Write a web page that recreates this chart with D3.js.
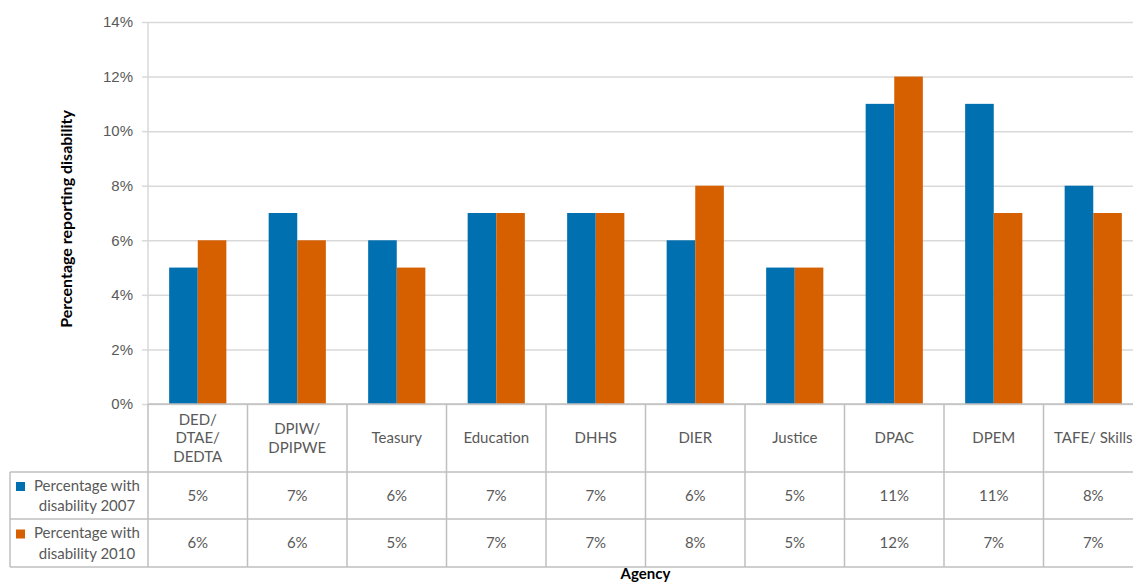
<!DOCTYPE html>
<html>
<head>
<meta charset="utf-8">
<script src="https://cdn.jsdelivr.net/npm/d3@7"></script>
<style>
  html, body { margin: 0; padding: 0; background: #fff; }
  svg { display: block; font-family: "Lato", "Liberation Sans", sans-serif; }
</style>
</head>
<body>
<svg id="chart" width="1133" height="583"></svg>
<script>
// Agencies (table header labels, split into lines)
const agencies = [
  ["DED/", "DTAE/", "DEDTA"],
  ["DPIW/", "DPIPWE"],
  ["Teasury"],
  ["Education"],
  ["DHHS"],
  ["DIER"],
  ["Justice"],
  ["DPAC"],
  ["DPEM"],
  ["TAFE/ Skills"]
];
// Percentage with disability, per agency
const values2007 = [5, 7, 6, 7, 7, 6, 5, 11, 11, 8];
const values2010 = [6, 6, 5, 7, 7, 8, 5, 12, 7, 7];
const seriesNames = [["Percentage with", "disability 2007"], ["Percentage with", "disability 2010"]];
const yTicks = [0, 2, 4, 6, 8, 10, 12, 14];

const colors = ["#0070b0", "#d65f00"];
const textColor = "#595959";
const gridColor = "#d9d9d9";
const lineColor = "#bfbfbf";

const svg = d3.select("#chart");
const plotL = 148, plotR = 1143, plotT = 22, plotB = 404;
const tableLeft = 10, headerBottom = 472, row1Bottom = 519, row2Bottom = 567;

const x = d3.scaleBand().domain(d3.range(agencies.length)).range([plotL, plotR]).paddingInner(0).paddingOuter(0);
const inner = d3.scaleBand().domain([0, 1]).range([0, x.bandwidth()]).paddingOuter(0.74).paddingInner(0);
const y = d3.scaleLinear().domain([0, 14]).range([plotB, plotT]);

// Gridlines and y-axis labels
const yAxis = d3.axisLeft(y).tickValues(yTicks).tickSize(-(plotR - plotL)).tickSizeOuter(0)
  .tickPadding(15).tickFormat(d => d + "%");
const gy = svg.append("g").attr("transform", `translate(${plotL},0)`).call(yAxis);
gy.select(".domain").remove();
gy.selectAll(".tick line").attr("stroke", gridColor).attr("stroke-width", 1.5);
gy.selectAll(".tick text").attr("fill", textColor).attr("font-size", 15);
// small outer tick marks
gy.selectAll(".tick").append("line").attr("x1", -6).attr("x2", 0)
  .attr("stroke", gridColor).attr("stroke-width", 1.5);
// vertical axis line
svg.append("line").attr("x1", plotL).attr("x2", plotL).attr("y1", plotT).attr("y2", plotB)
  .attr("stroke", gridColor).attr("stroke-width", 1.5);

// Bars
const series = [values2007, values2010];
series.forEach((vals, s) => {
  svg.append("g").selectAll("rect").data(vals).join("rect")
    .attr("x", (d, i) => x(i) + inner(s))
    .attr("width", inner.bandwidth())
    .attr("y", d => y(d))
    .attr("height", d => y(0) - y(d))
    .attr("fill", colors[s]);
});

// Data table
const tbl = svg.append("g").attr("stroke", lineColor).attr("stroke-width", 1.5);
tbl.append("line").attr("x1", plotL).attr("x2", plotR).attr("y1", plotB).attr("y2", plotB);
[headerBottom, row1Bottom, row2Bottom].forEach(yy =>
  tbl.append("line").attr("x1", tableLeft).attr("x2", plotR).attr("y1", yy).attr("y2", yy));
tbl.append("line").attr("x1", tableLeft).attr("x2", tableLeft).attr("y1", headerBottom).attr("y2", row2Bottom);
d3.range(agencies.length + 1).forEach(i => {
  const xx = i < agencies.length ? x(i) : plotR;
  tbl.append("line").attr("x1", xx).attr("x2", xx).attr("y1", plotB).attr("y2", row2Bottom);
});

// Header labels
const headerMid = (plotB + headerBottom) / 2;
const lh = 18.5;
agencies.forEach((lines, i) => {
  const t = svg.append("text").attr("text-anchor", "middle").attr("fill", textColor).attr("font-size", 15)
    .attr("x", x(i) + x.bandwidth() / 2);
  lines.forEach((ln, k) => {
    t.append("tspan").attr("x", x(i) + x.bandwidth() / 2)
      .attr("y", headerMid + (k - (lines.length - 1) / 2) * lh)
      .attr("dy", "0.35em").text(ln);
  });
});

// Series rows: legend key, name and values
const rows = [[headerBottom, row1Bottom], [row1Bottom, row2Bottom]];
rows.forEach(([y0, y1], s) => {
  const mid = (y0 + y1) / 2;
  svg.append("rect").attr("x", 16).attr("y", mid - 13.5).attr("width", 9).attr("height", 9).attr("fill", colors[s]);
  const t = svg.append("text").attr("text-anchor", "middle").attr("fill", textColor).attr("font-size", 15);
  seriesNames[s].forEach((ln, k) => {
    t.append("tspan").attr("x", 87).attr("y", mid + (k - 0.5) * 20.5).attr("dy", "0.35em").text(ln);
  });
  svg.append("g").selectAll("text").data(series[s]).join("text")
    .attr("x", (d, i) => x(i) + x.bandwidth() / 2)
    .attr("y", mid).attr("dy", "0.35em")
    .attr("text-anchor", "middle").attr("fill", textColor).attr("font-size", 15)
    .text(d => d + "%");
});

// Axis titles
svg.append("text").attr("transform", `translate(72,219) rotate(-90)`)
  .attr("text-anchor", "middle").attr("font-weight", "bold").attr("font-size", 16).attr("fill", "#000")
  .text("Percentage reporting disability");
svg.append("text").attr("x", (plotL + plotR) / 2).attr("y", 579)
  .attr("text-anchor", "middle").attr("font-weight", "bold").attr("font-size", 15).attr("fill", "#000")
  .text("Agency");
</script>
</body>
</html>
